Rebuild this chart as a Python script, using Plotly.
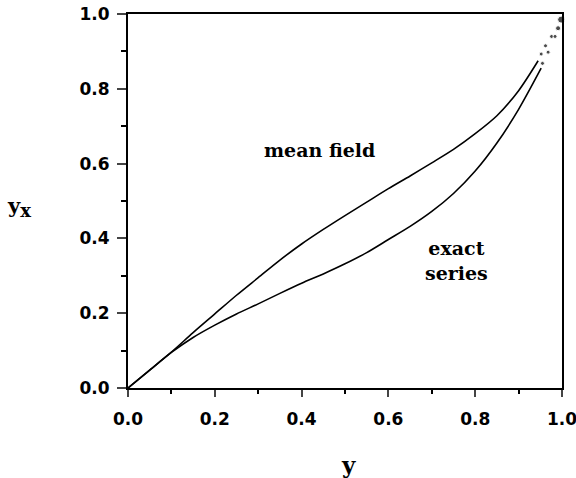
import plotly.graph_objects as go

# Mean-field curve
mf_x = [0, 0.05, 0.1, 0.15, 0.2, 0.25, 0.3, 0.35, 0.4, 0.45, 0.5, 0.55, 0.6, 0.65, 0.7, 0.75, 0.8, 0.85, 0.9, 0.945]
mf_y = [0, 0.048, 0.096, 0.148, 0.198, 0.248, 0.295, 0.342, 0.385, 0.424, 0.461, 0.497, 0.533, 0.567, 0.602, 0.638, 0.680, 0.728, 0.795, 0.875]

# Exact-series curve
ex_x = [0, 0.05, 0.1, 0.15, 0.2, 0.25, 0.3, 0.35, 0.4, 0.45, 0.5, 0.55, 0.6, 0.65, 0.7, 0.75, 0.8, 0.85, 0.9, 0.952]
ex_y = [0, 0.048, 0.095, 0.135, 0.168, 0.198, 0.225, 0.253, 0.280, 0.305, 0.332, 0.362, 0.397, 0.432, 0.472, 0.520, 0.580, 0.655, 0.745, 0.855]

# dotted extrapolation to (1,1)
dot_x = [0.952, 0.955, 0.962, 0.968, 0.976, 0.984, 0.991, 0.998]
dot_y = [0.893, 0.868, 0.915, 0.898, 0.94, 0.94, 0.962, 0.985]
dot_size = [4, 4, 4, 4, 4, 4, 5, 7]

ticks = [0.0, 0.2, 0.4, 0.6, 0.8, 1.0]

fig = go.Figure()
fig.add_trace(go.Scatter(x=mf_x, y=mf_y, mode="lines", line=dict(color="black", width=1.6, shape="spline", smoothing=0.8), hoverinfo="skip"))
fig.add_trace(go.Scatter(x=ex_x, y=ex_y, mode="lines", line=dict(color="black", width=1.6, shape="spline", smoothing=0.8), hoverinfo="skip"))
fig.add_trace(go.Scatter(x=dot_x, y=dot_y, mode="markers", marker=dict(color="black", size=dot_size), hoverinfo="skip", cliponaxis=False))

tickfont = dict(family="DejaVu Sans", size=17, color="black", weight="bold")

fig.update_layout(
    width=576, height=478,
    margin=dict(l=128, r=14, t=14, b=90, autoexpand=False),
    paper_bgcolor="white", plot_bgcolor="white",
    showlegend=False,
    xaxis=dict(range=[0, 1.00001], tickvals=ticks, tickformat=".1f", ticks="outside", ticklen=7, tickwidth=2,
               showline=True, linecolor="black", linewidth=2, mirror=True, showgrid=False, zeroline=False,
               tickfont=tickfont, ticklabelstandoff=8, ticklabeloverflow="allow", automargin=False,
               minor=dict(dtick=0.1, tick0=0, ticks="outside", ticklen=4, tickwidth=2, tickcolor="black", showgrid=False)),
    yaxis=dict(range=[0, 1.00001], tickvals=ticks, tickformat=".1f", ticks="outside", ticklen=9, tickwidth=2,
               showline=True, linecolor="black", linewidth=2, mirror=True, showgrid=False, zeroline=False,
               tickfont=tickfont, ticklabelstandoff=4, ticklabeloverflow="allow", automargin=False,
               minor=dict(dtick=0.1, tick0=0, ticks="outside", ticklen=5, tickwidth=2, tickcolor="black", showgrid=False)),
)

serif = dict(family="DejaVu Serif", size=19, color="black", weight="bold")
fig.add_annotation(x=0.442, y=0.636, xref="x", yref="y", text="mean field", showarrow=False, font=serif)
fig.add_annotation(x=0.756, y=0.340, xref="x", yref="y", text="exact<br>series", showarrow=False, font=serif, align="center")
fig.add_annotation(x=0.507, y=-0.205, xref="paper", yref="paper", text="y", showarrow=False,
                   font=dict(family="DejaVu Serif", size=23, color="black", weight="bold"), yanchor="middle")
fig.add_annotation(x=-0.283, y=0.484, xref="paper", yref="paper",
                   text="y<sub><span style='font-size:18px'>x</span></sub>", showarrow=False,
                   font=dict(family="DejaVu Serif", size=21, color="black", weight="bold"), xanchor="left", yanchor="middle")

fig.write_html("out.html")
